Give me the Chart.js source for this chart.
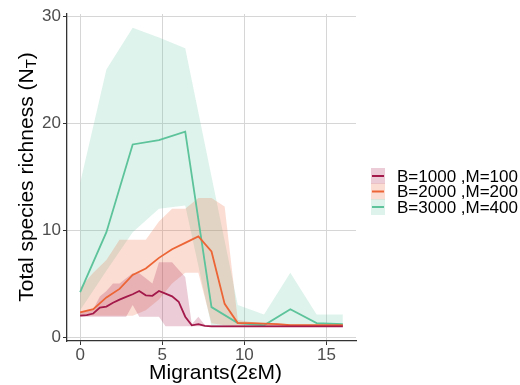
<!DOCTYPE html>
<html>
<head>
<meta charset="utf-8">
<script src="https://cdn.jsdelivr.net/npm/chart.js@4"></script>
<style>
  body { margin: 0; background: #fff; }
  #wrap { width: 520px; height: 385px; position: relative; }
</style>
</head>
<body>
<div id="wrap"><canvas id="richnessChart"></canvas></div>
<script>
// x positions of each series (migrants, 2eM)
const xCrimson = [0,0.4,0.8,1.2,1.6,2.0,2.4,2.8,3.2,3.6,4.0,4.4,4.8,5.2,5.6,6.0,6.4,6.8,7.2,7.6,8.0,
                  8.4,8.8,9.2,9.6,10.0,10.4,10.8,11.2,11.6,12.0,12.4,12.8,13.2,13.6,14.0,14.4,14.8,15.2,15.6,16.0];
const xOrange = [0,0.8,1.6,2.4,3.2,4.0,4.8,5.6,6.4,7.2,8.0,8.8,9.6,10.4,11.2,12.0,12.8,13.6,14.4,15.2,16.0];
const xGreen = [0,1.6,3.2,4.8,6.4,8.0,9.6,11.2,12.8,14.4,16.0];

// B=1000, M=100
const crimsonMean = [2.0,2.05,2.2,2.75,2.85,3.2,3.5,3.75,4.0,4.3,3.9,3.85,4.3,4.05,3.8,3.3,1.9,1.1,1.2,1.05,1.0,
                     1,1,1,1,1,1,1,1,1,1,1,1,1,1,1,1,1,1,1,1];
const crimsonUpper = [2.3,2.4,2.6,3.8,4.3,5.0,5.0,5.5,5.95,5.95,5.5,5.0,7.0,7.0,7.0,6.3,5.6,1.2,1.9,1.1,1.1,
                      1.1,1.1,1.1,1.1,1.1,1.1,1.1,1.1,1.1,1.1,1.1,1.1,1.1,1.1,1.1,1.1,1.1,1.1,1.1,1.1];
const crimsonLower = [1.9,1.9,1.9,1.9,1.9,1.9,1.9,1.9,3.0,1.9,1.9,1.9,1.9,1.0,1.0,1.0,1.0,1.0,1.0,1.0,1.0,
                      1,1,1,1,1,1,1,1,1,1,1,1,1,1,1,1,1,1,1,1];

// B=2000, M=200
const orangeMean  = [2.3,2.6,3.7,4.5,5.8,6.4,7.4,8.2,8.8,9.4,8.0,3.1,1.3,1.3,1.25,1.2,1.1,1.1,1.1,1.1,1.1];
const orangeUpper = [4.6,6.0,7.2,9.1,9.1,9.1,10.8,12.0,12.0,13.0,13.0,12.2,1.6,1.4,1.3,1.3,1.2,1.2,1.2,1.2,1.2];
const orangeLower = [2.0,2.0,2.0,2.0,2.0,2.5,3.5,5.0,6.0,6.0,1.3,1.1,1.0,1.0,1.0,1.0,1.0,1.0,1.0,1.0,1.0];

// B=3000, M=400
const greenMean  = [4.2,9.8,18.0,18.4,19.2,2.8,1.3,1.1,2.6,1.3,1.2];
const greenUpper = [14.4,25.0,28.9,28.0,27.0,15.0,3.0,2.1,6.0,2.1,2.1];
const greenLower = [2.5,6.2,9.8,12.0,12.3,1.0,1.0,1.0,1.0,1.0,1.0];

const xTicks = [0, 5, 10, 15];
const yTicks = [0, 10, 20, 30];
const seriesLabels = ['B=1000 ,M=100', 'B=2000 ,M=200', 'B=3000 ,M=400'];
const lineColors = ['#A3194A', '#EC6536', '#5CC39B'];
const bandColors = ['rgba(163,25,74,0.22)', 'rgba(236,101,54,0.22)', 'rgba(92,195,155,0.2)'];

const FONT = "'Liberation Sans', Arial, Helvetica, sans-serif";

function pts(xs, ys) {
    return xs.map((x, i) => ({ x: x, y: ys[i] }));
}

function lineSet(label, xs, ys, color) {
    return {
        label: label,
        data: pts(xs, ys),
        borderColor: color,
        borderWidth: 1.8,
        pointRadius: 0,
        fill: false,
        tension: 0,
        order: 0
    };
}

function bandSet(xs, ys, color, fillTarget) {
    return {
        data: pts(xs, ys),
        borderWidth: 0,
        borderColor: 'rgba(0,0,0,0)',
        backgroundColor: color,
        pointRadius: 0,
        fill: fillTarget,
        tension: 0,
        order: 1
    };
}

const datasets = [
    lineSet(seriesLabels[0], xCrimson, crimsonMean, lineColors[0]),
    lineSet(seriesLabels[1], xOrange, orangeMean, lineColors[1]),
    lineSet(seriesLabels[2], xGreen, greenMean, lineColors[2]),
    bandSet(xCrimson, crimsonUpper, bandColors[0], '+1'),
    bandSet(xCrimson, crimsonLower, bandColors[0], false),
    bandSet(xOrange, orangeUpper, bandColors[1], '+1'),
    bandSet(xOrange, orangeLower, bandColors[1], false),
    bandSet(xGreen, greenUpper, bandColors[2], '+1'),
    bandSet(xGreen, greenLower, bandColors[2], false)
];

// axis titles (with subscript) and the legend on the right
const decorations = {
    id: 'decorations',
    afterDraw(chart) {
        const ctx = chart.ctx;
        const area = chart.chartArea;
        ctx.save();
        ctx.fillStyle = '#000';

        // x title
        ctx.font = '21px ' + FONT;
        ctx.textAlign = 'center';
        ctx.textBaseline = 'middle';
        ctx.fillText('Migrants(2\u03B5M)', (area.left + area.right) / 2 + 4, 373);

        // y title, rotated, with subscript T
        const main = 'Total species richness (N';
        const sub = 'T';
        const tail = ')';
        ctx.font = '21px ' + FONT;
        const wMain = ctx.measureText(main).width;
        const wTail = ctx.measureText(tail).width;
        ctx.font = '15px ' + FONT;
        const wSub = ctx.measureText(sub).width;
        const total = wMain + wSub + wTail;
        ctx.translate(27, 177);
        ctx.rotate(-Math.PI / 2);
        ctx.textAlign = 'left';
        ctx.textBaseline = 'middle';
        let x0 = -total / 2;
        ctx.font = '21px ' + FONT;
        ctx.fillText(main, x0, 0);
        ctx.font = '15px ' + FONT;
        ctx.fillText(sub, x0 + wMain, 5);
        ctx.font = '21px ' + FONT;
        ctx.fillText(tail, x0 + wMain + wSub, 0);
        ctx.restore();

        // legend
        ctx.save();
        const keyX = 371, keyW = 14, keyH = 16, textX = 397;
        const rowY = [176, 191.5, 207];
        ctx.font = '17px ' + FONT;
        ctx.textAlign = 'left';
        ctx.textBaseline = 'middle';
        seriesLabels.forEach((label, i) => {
            const cy = rowY[i];
            ctx.fillStyle = bandColors[i];
            ctx.fillRect(keyX, cy - keyH / 2, keyW, keyH);
            ctx.strokeStyle = lineColors[i];
            ctx.lineWidth = 2;
            ctx.beginPath();
            ctx.moveTo(keyX + 1, cy);
            ctx.lineTo(keyX + keyW - 1, cy);
            ctx.stroke();
            ctx.fillStyle = '#000';
            ctx.fillText(label, textX, cy + 1);
        });
        ctx.restore();
    }
};

new Chart(document.getElementById('richnessChart'), {
    type: 'line',
    data: { datasets: datasets },
    options: {
        responsive: true,
        maintainAspectRatio: false,
        animation: false,
        layout: { padding: { left: 0, top: 14, right: 164, bottom: 0 } },
        plugins: {
            legend: { display: false },
            tooltip: { enabled: false },
            filler: { propagate: false }
        },
        scales: {
            x: {
                type: 'linear',
                min: -0.8,
                max: 16.8,
                afterBuildTicks: scale => { scale.ticks = xTicks.map(v => ({ value: v })); },
                afterFit: scale => { scale.height = 44; },
                ticks: { color: '#4D4D4D', font: { family: FONT, size: 17 }, padding: 0 },
                grid: { color: '#D6D6D6', lineWidth: 1, tickLength: 4, tickColor: '#333' },
                border: { display: true, color: '#333', width: 1.3 }
            },
            y: {
                type: 'linear',
                min: -0.37,
                max: 30.19,
                afterBuildTicks: scale => { scale.ticks = yTicks.map(v => ({ value: v })); },
                afterFit: scale => { scale.width = 67; },
                ticks: { color: '#4D4D4D', font: { family: FONT, size: 17 }, padding: 2 },
                grid: { color: '#D6D6D6', lineWidth: 1, tickLength: 4, tickColor: '#333' },
                border: { display: true, color: '#333', width: 1.3 }
            }
        }
    },
    plugins: [decorations]
});
</script>
</body>
</html>
